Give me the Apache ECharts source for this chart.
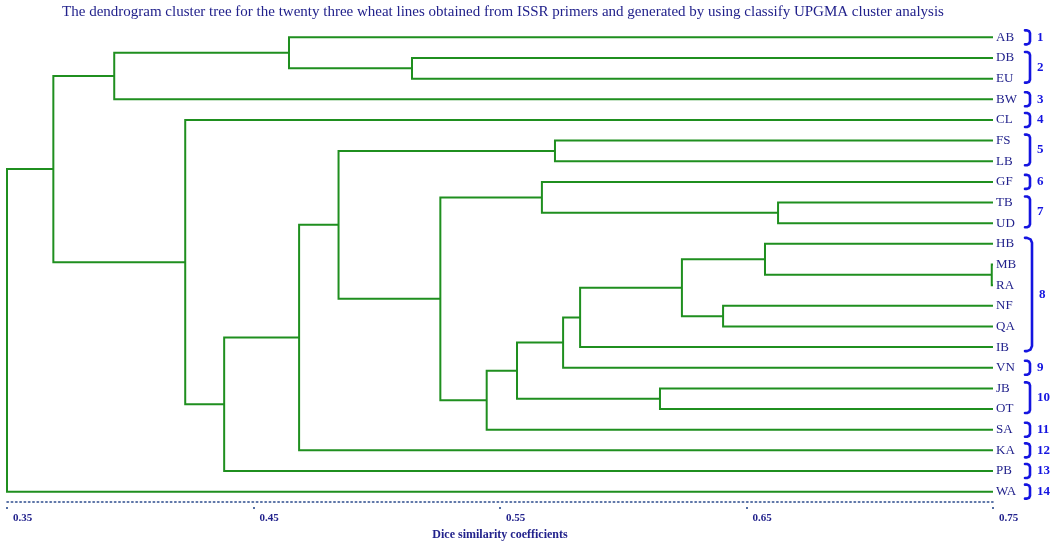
<!DOCTYPE html>
<html>
<head>
<meta charset="utf-8">
<script src="https://cdn.jsdelivr.net/npm/echarts@6/dist/echarts.min.js"></script>
<style>
  html, body { margin: 0; padding: 0; background: #ffffff; }
  #chart { width: 1062px; height: 542px; }
</style>
</head>
<body>
<div id="chart"></div>
<script>
// Wheat lines, top to bottom as they appear on the tree
const leaves = ['AB','DB','EU','BW','CL','FS','LB','GF','TB','UD','HB','MB','RA','NF','QA','IB','VN','JB','OT','SA','KA','PB','WA'];

// UPGMA merge steps: child A, child B (leaf name or '#k' = merge k), Dice similarity at the join
const mergeA   = ['MB','TB','HB','NF','#2','JB','#4','#6','FS','GF','#7','#10','#9','DB','#8','#14','AB','#15','CL','#16','#19','#20'];
const mergeB   = ['RA','UD','#0','QA','#3','OT','IB','VN','LB','#1','#5','SA','#11','EU','#12','KA','#13','PB','#17','BW','#18','WA'];
const mergeSim = [0.7495,0.6628,0.6575,0.6405,0.6238,0.6149,0.5825,0.5756,0.5723,0.5670,0.5569,0.5446,0.5258,0.5143,0.4845,0.4685,0.4644,0.4381,0.4223,0.3935,0.3688,0.3500];

// Cluster groups marked with brackets on the right
const clusterStart = ['AB','DB','BW','CL','FS','GF','TB','HB','VN','JB','SA','KA','PB','WA'];
const clusterEnd   = ['AB','EU','BW','CL','LB','GF','UD','IB','VN','OT','SA','KA','PB','WA'];
const clusterNames = ['1','2','3','4','5','6','7','8','9','10','11','12','13','14'];

// Similarity axis
const simMin = 0.35, simMax = 0.75, simStep = 0.1;

const TEXT_BLUE = '#22228c';
const TREE_GREEN = '#1f8f1f';
const BRACKET_BLUE = '#1414e0';
const SERIF = '"Liberation Serif", "DejaVu Serif", serif';

// Resolve every node to (similarity, row position)
const nodePos = {};
leaves.forEach((name, i) => { nodePos[name] = { x: simMax, y: i }; });
const branchData = [];
mergeA.forEach((a, k) => {
  const b = mergeB[k];
  const pa = nodePos[a], pb = nodePos[b];
  const h = mergeSim[k];
  nodePos['#' + k] = { x: h, y: (pa.y + pb.y) / 2 };
  branchData.push([h, pa.x, pa.y, pb.x, pb.y]);
});

const clusterData = clusterStart.map((s, i) => [leaves.indexOf(s), leaves.indexOf(clusterEnd[i]), clusterNames[i]]);

const chart = echarts.init(document.getElementById('chart'), null, { renderer: 'canvas' });

chart.setOption({
  animation: false,
  backgroundColor: '#ffffff',
  graphic: [{
    type: 'text',
    x: 503,
    y: 12,
    style: {
      text: 'The dendrogram cluster tree for the twenty three wheat lines obtained from ISSR primers and generated by using classify UPGMA cluster analysis',
      fill: TEXT_BLUE,
      font: '15px ' + SERIF,
      align: 'center',
      verticalAlign: 'middle'
    }
  }],
  grid: { left: 7, right: 69, top: 27, bottom: 40, containLabel: false, outerBoundsMode: 'none' },
  xAxis: {
    type: 'value',
    min: simMin,
    max: simMax,
    interval: simStep,
    splitLine: { show: false },
    axisLine: { show: true, onZero: false, lineStyle: { color: '#2a4a8c', width: 1.6, type: [1.4, 2.9] } },
    axisTick: { show: true, length: 8, lineStyle: { color: '#2a4a8c', width: 1.6, type: [0, 5, 2, 10] } },
    axisLabel: {
      color: TEXT_BLUE,
      fontFamily: SERIF,
      fontWeight: 'bold',
      fontSize: 11,
      align: 'left',
      padding: [0, 0, 0, 6],
      margin: 11,
      formatter: v => v.toFixed(2)
    },
    name: 'Dice similarity coefficients',
    nameLocation: 'middle',
    nameGap: 25,
    nameTextStyle: { color: TEXT_BLUE, fontFamily: SERIF, fontWeight: 'bold', fontSize: 12 }
  },
  yAxis: [
    { type: 'value', min: -0.5, max: leaves.length - 0.5, inverse: true, show: false },
    {
      type: 'category',
      data: leaves,
      inverse: true,
      position: 'right',
      axisLine: { show: false },
      axisTick: { show: false },
      splitLine: { show: false },
      axisLabel: { color: TEXT_BLUE, fontFamily: SERIF, fontSize: 13, margin: 3 }
    }
  ],
  series: [
    {
      type: 'custom',
      name: 'tree',
      coordinateSystem: 'cartesian2d',
      xAxisIndex: 0,
      yAxisIndex: 0,
      silent: true,
      data: branchData,
      renderItem: function (params, api) {
        const h = api.value(0);
        const a0 = api.coord([api.value(1), api.value(2)]);
        const a1 = api.coord([h, api.value(2)]);
        const b1 = api.coord([h, api.value(4)]);
        const b0 = api.coord([api.value(3), api.value(4)]);
        return {
          type: 'polyline',
          shape: { points: [a0, a1, b1, b0] },
          style: { stroke: TREE_GREEN, lineWidth: 2, fill: null, lineJoin: 'miter' }
        };
      }
    },
    {
      type: 'custom',
      name: 'clusters',
      coordinateSystem: 'cartesian2d',
      xAxisIndex: 0,
      yAxisIndex: 0,
      silent: true,
      clip: false,
      data: clusterData,
      renderItem: function (params, api) {
        const p1 = api.coord([simMax, api.value(0)]);
        const p2 = api.coord([simMax, api.value(1)]);
        const bx = p1[0] + 32;
        const single = api.value(0) === api.value(1);
        const top = p1[1] - (single ? 7 : 6);
        const bottom = p2[1] + (single ? 7 : 4);
        const w = (bottom - top) > 40 ? 7 : 5;
        const r = (bottom - top) > 40 ? 5 : 3;
        return {
          type: 'group',
          children: [
            {
              type: 'polyline',
              shape: {
                points: [
                  [bx, top], [bx + w - r, top], [bx + w - r * 0.3, top + r * 0.3], [bx + w, top + r],
                  [bx + w, bottom - r], [bx + w - r * 0.3, bottom - r * 0.3], [bx + w - r, bottom], [bx, bottom]
                ]
              },
              style: { stroke: BRACKET_BLUE, lineWidth: 2.6, fill: null, lineJoin: 'round', lineCap: 'round' }
            },
            {
              type: 'text',
              x: bx + w + 7,
              y: (top + bottom) / 2,
              style: {
                text: api.value(2) + '',
                fill: BRACKET_BLUE,
                fontFamily: SERIF,
                fontWeight: 'bold',
                fontSize: 13,
                align: 'left',
                verticalAlign: 'middle'
              }
            }
          ]
        };
      }
    }
  ]
});
</script>
</body>
</html>
